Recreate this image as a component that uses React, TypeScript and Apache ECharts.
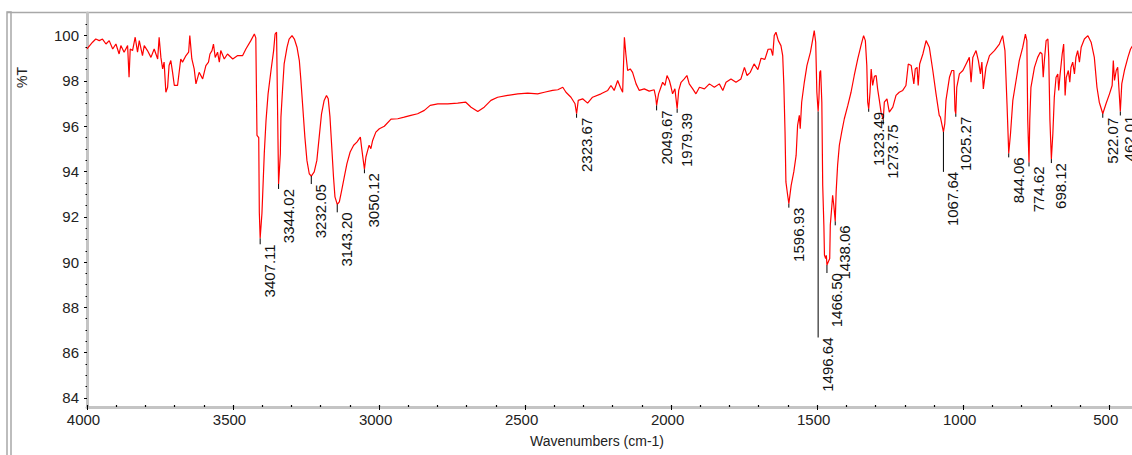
import React, { useEffect, useRef } from "react";
import * as echarts from "echarts";

// IR spectrum: wavenumber (cm-1) against transmittance (%T)
const wavenumbers = [
  4000, 3981, 3970, 3958, 3947, 3935, 3924, 3912, 3901, 3890, 3884, 3873, 3861, 3856, 3852, 3844,
  3835, 3827, 3821, 3810, 3804, 3793, 3781, 3770, 3758, 3753, 3747, 3741, 3736, 3730, 3724, 3719,
  3713, 3707, 3701, 3690, 3679, 3673, 3661, 3652, 3648, 3641, 3633, 3627, 3616, 3604, 3593, 3584,
  3579, 3572, 3567, 3561, 3553, 3547, 3542, 3530, 3519, 3501, 3484, 3467, 3456, 3439, 3427, 3422,
  3418, 3412, 3410, 3407.11, 3401, 3397, 3393, 3387, 3380, 3370, 3361, 3356, 3351, 3347, 3344.02, 3338,
  3336, 3330, 3325, 3315, 3308, 3298, 3290, 3281, 3273, 3268, 3262, 3254, 3247, 3239, 3232.05, 3222,
  3213, 3205, 3197, 3188, 3180, 3174, 3168, 3162, 3156, 3151, 3143.2, 3136, 3128, 3119, 3110, 3099,
  3087, 3076, 3064, 3060, 3050.12, 3045, 3039, 3034, 3028, 3022, 3011, 2999, 2982, 2959, 2936, 2914,
  2891, 2868, 2845, 2825, 2799, 2765, 2731, 2703, 2685, 2662, 2640, 2617, 2594, 2560, 2525, 2491,
  2457, 2434, 2406, 2388, 2371, 2360, 2343, 2329, 2323.67, 2318, 2303, 2286, 2269, 2240, 2217, 2206,
  2195, 2183, 2174, 2166, 2160, 2155, 2149, 2140, 2132, 2120, 2109, 2092, 2075, 2058, 2053, 2049.67,
  2043, 2035, 2029, 2021, 2014, 2006, 2000, 1995, 1987, 1979.39, 1974, 1966, 1955, 1946, 1938, 1926,
  1915, 1903, 1886, 1869, 1852, 1835, 1823, 1812, 1795, 1778, 1761, 1749, 1740, 1729, 1716, 1703,
  1692, 1679, 1668, 1658, 1652, 1647, 1641, 1633, 1624, 1618, 1614, 1610, 1607, 1601, 1596.93, 1589,
  1580, 1572, 1567, 1561, 1558, 1553, 1544, 1535, 1523, 1515, 1510, 1505, 1501, 1496.64, 1494, 1491,
  1488, 1484, 1481, 1477, 1475, 1471, 1468.5, 1466.5, 1457, 1455, 1450, 1447, 1443, 1438.06, 1435, 1430,
  1424, 1416, 1407, 1395, 1384, 1373, 1361, 1350, 1341, 1335, 1330, 1327, 1323.49, 1319, 1315, 1310,
  1304, 1298, 1293, 1287, 1281, 1273.75, 1270, 1261, 1253, 1241, 1230, 1219, 1207, 1196, 1188, 1178,
  1169, 1164, 1158, 1154, 1149, 1138, 1127, 1116, 1104, 1093, 1082, 1078, 1067.64, 1063, 1059, 1047,
  1039, 1032, 1028, 1025.27, 1022, 1013, 1001, 990, 979, 973, 967, 956, 948, 941, 936, 931,
  922, 910, 893, 876, 865, 857, 850, 844.06, 838, 830, 819, 808, 796, 787, 782, 779,
  774.62, 772, 768, 756, 745, 736, 730, 726, 722, 716, 710, 707, 703, 698.12, 693, 688,
  682, 676, 673, 668, 661, 656, 651, 647, 640, 635, 631, 625, 619, 614, 608, 602,
  596, 585, 573, 562, 551, 542, 534, 522.07, 511, 499, 490, 486, 482, 476, 471, 467,
  462.01, 457, 448, 436, 427, 418,
];

const transmittance = [
  99.42, 99.71, 99.85, 99.78, 99.85, 99.63, 99.78, 99.41, 99.63, 99.19, 99.56, 99.27, 99.56, 98.16, 99.41, 99.34,
  99.93, 99.27, 99.78, 99.12, 99.56, 99.34, 99.04, 99.41, 98.97, 99.93, 99.04, 98.53, 98.83, 97.5, 97.72, 98.68,
  98.9, 98.38, 97.8, 97.8, 98.97, 98.83, 99.12, 99.27, 100.0, 98.97, 98.53, 97.87, 98.38, 98.09, 98.68, 98.83,
  99.19, 99.34, 99.63, 99.04, 99.27, 98.83, 99.34, 98.97, 99.19, 98.97, 99.12, 99.12, 99.41, 99.78, 100.07, 99.9,
  95.6, 95.5, 92.2, 91.05, 92.16, 93.47, 94.8, 96.26, 97.43, 98.46, 99.34, 100.07, 100.15, 96.26, 93.45, 94.79,
  96.4, 97.72, 98.75, 99.49, 99.85, 100.0, 99.85, 99.49, 98.9, 98.09, 96.99, 95.52, 94.49, 93.9, 93.8, 93.98,
  94.49, 95.52, 96.55, 97.14, 97.36, 97.21, 96.4, 95.08, 93.76, 92.88, 92.55, 92.66, 93.17, 93.76, 94.35, 94.86,
  95.16, 95.3, 95.52, 95.08, 94.1, 94.64, 94.93, 95.16, 95.01, 95.37, 95.74, 95.89, 96.0, 96.31, 96.33, 96.4,
  96.48, 96.55, 96.7, 96.92, 96.99, 96.99, 97.02, 97.06, 96.84, 96.65, 96.84, 97.14, 97.28, 97.36, 97.43, 97.46,
  97.43, 97.5, 97.58, 97.61, 97.72, 97.5, 97.28, 96.99, 96.55, 97.14, 97.21, 97.02, 97.28, 97.43, 97.58, 97.8,
  97.58, 98.02, 97.72, 97.5, 99.93, 99.19, 98.46, 98.53, 98.38, 97.87, 97.58, 97.65, 97.55, 97.61, 97.3, 96.92,
  97.43, 97.72, 97.94, 97.8, 98.24, 98.02, 97.72, 97.43, 97.65, 96.77, 97.58, 97.94, 98.09, 98.24, 97.87, 97.65,
  97.43, 97.72, 97.65, 97.87, 97.72, 97.87, 97.58, 97.94, 98.09, 97.94, 98.09, 98.6, 98.24, 98.38, 98.75, 98.5,
  99.0, 98.95, 99.4, 99.41, 99.12, 100.0, 100.15, 99.78, 99.56, 99.12, 97.8, 95.74, 93.54, 92.95, 92.58, 93.39,
  93.98, 94.71, 96.04, 96.48, 95.89, 97.06, 97.94, 98.68, 99.27, 99.85, 100.22, 99.71, 97.5, 96.65, 97.21, 98.38,
  98.46, 97.06, 93.39, 91.63, 90.31, 90.16, 90.3, 89.87, 90.16, 91.63, 92.43, 92.95, 92.51, 91.8, 93.1, 94.27,
  95.16, 95.74, 96.33, 96.92, 97.5, 98.24, 98.97, 99.56, 100.0, 99.78, 98.68, 97.06, 96.77, 97.5, 98.53, 97.8,
  98.2, 98.24, 97.65, 97.14, 96.6, 96.3, 97.06, 97.21, 96.62, 96.84, 97.36, 97.5, 97.58, 97.8, 98.75, 98.68,
  97.87, 98.53, 98.6, 97.8, 98.75, 99.19, 99.78, 99.49, 98.46, 97.43, 96.48, 96.4, 95.75, 96.11, 97.14, 98.16,
  98.46, 98.46, 96.7, 96.55, 97.72, 98.31, 98.46, 98.75, 99.04, 97.94, 99.04, 99.34, 98.9, 98.31, 98.83, 97.65,
  98.6, 99.12, 99.34, 99.63, 100.0, 99.34, 96.99, 94.8, 95.67, 97.14, 98.02, 98.9, 99.49, 100.07, 99.78, 96.26,
  94.4, 96.26, 97.72, 98.6, 99.04, 99.27, 99.19, 98.16, 98.9, 99.78, 99.85, 99.04, 96.26, 94.55, 95.67, 97.28,
  98.16, 98.31, 97.58, 98.31, 99.19, 99.63, 97.36, 98.16, 98.46, 97.94, 98.6, 98.83, 98.31, 99.04, 99.34, 98.83,
  99.49, 99.85, 100.0, 99.71, 99.04, 97.72, 97.06, 96.55, 96.99, 97.43, 97.8, 98.9, 98.02, 98.46, 98.6, 97.72,
  96.65, 97.87, 98.46, 99.04, 99.41, 99.6,
];

// Labelled absorption bands
const peakLabels = [
  "3407.11", "3344.02", "3232.05", "3143.20", "3050.12", "2323.67", "2049.67", "1979.39",
  "1596.93", "1496.64", "1466.50", "1438.06", "1323.49", "1273.75", "1067.64", "1025.27",
  "844.06", "774.62", "698.12", "522.07", "462.01",
];
const peakWavenumbers = [
  3407.11, 3344.02, 3232.05, 3143.2, 3050.12, 2323.67, 2049.67, 1979.39,
  1596.93, 1496.64, 1466.5, 1438.06, 1323.49, 1273.75, 1067.64, 1025.27,
  844.06, 774.62, 698.12, 522.07, 462.01,
];
const peakTransmittance = [
  91.05, 93.45, 93.8, 92.55, 94.1, 96.55, 96.92, 96.77,
  92.58, 96.65, 89.87, 91.8, 96.77, 96.3, 95.75, 96.55,
  94.8, 94.4, 94.55, 96.55, 96.65,
];

// Axis tick values
const xMajorTicks = [4000, 3500, 3000, 2500, 2000, 1500, 1000, 500];
const xMinorTicks = [
  4000, 3900, 3800, 3700, 3600, 3500, 3400, 3300, 3200, 3100, 3000, 2900, 2800, 2700, 2600, 2500,
  2400, 2300, 2200, 2100, 2000, 1900, 1800, 1700, 1600, 1500, 1400, 1300, 1200, 1100, 1000, 900,
  800, 700, 600, 500,
];
const yMajorTicks = [84, 86, 88, 90, 92, 94, 96, 98, 100];
const yMinorTicks = [
  84, 84.5, 85, 85.5, 86, 86.5, 87, 87.5, 88, 88.5, 89, 89.5, 90, 90.5, 91, 91.5, 92, 92.5,
  93, 93.5, 94, 94.5, 95, 95.5, 96, 96.5, 97, 97.5, 98, 98.5, 99, 99.5, 100, 100.5,
];

// Leader line length (px) below each labelled band
const leaderLengths = [6, 5, 8, 8, 4, 4, 5, 4, 4, 226, 8, 4, 3, 5, 40, 3, 4, 4, 4, 4, 4];

const FONT = '"Liberation Sans", Arial, Helvetica, sans-serif';
const X_MIN = 422;
const X_MAX = 4000;
const Y_MIN = 83.6;
const Y_MAX = 101;

export default function App() {
  const ref = useRef<HTMLDivElement>(null);

  useEffect(() => {
    if (!ref.current) return;
    const chart = echarts.init(ref.current, undefined, { renderer: "svg" });

    const spectrum = wavenumbers.map((w, i) => [w, transmittance[i]]);
    const peaks = peakWavenumbers.map((w, i) => [w, peakTransmittance[i]]);

    const baseX = {
      type: "value" as const,
      min: X_MIN,
      max: X_MAX,
      inverse: true,
      position: "bottom" as const,
      splitLine: { show: false },
    };
    const baseY = {
      type: "value" as const,
      min: Y_MIN,
      max: Y_MAX,
      position: "left" as const,
      splitLine: { show: false },
    };

    chart.setOption({
      animation: false,
      backgroundColor: "#ffffff",
      grid: { left: 87, right: 0, top: 13, bottom: 48, containLabel: false, outerBoundsMode: "none" },
      xAxis: [
        {
          ...baseX,
          axisLine: { show: true, lineStyle: { color: "#c4c4c4", width: 3 } },
          axisTick: { show: true, customValues: xMajorTicks, length: 3, lineStyle: { color: "#000", width: 1 } },
          axisLabel: {
            show: true,
            customValues: xMajorTicks,
            formatter: (v: number) => String(v),
            margin: 5,
            padding: [0, 7, 0, 0],
            color: "#222",
            fontSize: 15,
            fontFamily: FONT,
          },
        },
        {
          ...baseX,
          axisLine: { show: false },
          axisTick: { show: true, inside: true, customValues: xMinorTicks, length: 2, lineStyle: { color: "#000", width: 1.2 } },
          axisLabel: { show: false },
        },
      ],
      yAxis: [
        {
          ...baseY,
          axisLine: { show: true, lineStyle: { color: "#c4c4c4", width: 3 } },
          axisTick: { show: true, customValues: yMajorTicks, length: 3, lineStyle: { color: "#000", width: 1 } },
          axisLabel: {
            show: true,
            customValues: yMajorTicks,
            formatter: (v: number) => String(v),
            margin: 8,
            color: "#222",
            fontSize: 15,
            fontFamily: FONT,
          },
        },
        {
          ...baseY,
          axisLine: { show: false },
          axisTick: { show: true, customValues: yMinorTicks, length: 1.5, lineStyle: { color: "#000", width: 1.2 } },
          axisLabel: { show: false },
        },
      ],
      graphic: [
        {
          type: "rect",
          shape: { x: 7, y: 12, width: 4, height: 450 },
          style: { fill: "#ffffff", stroke: "#a8a8a8", lineWidth: 1.5 },
          silent: true,
        },
        {
          type: "line",
          shape: { x1: 7, y1: 12.5, x2: 1132, y2: 12.5 },
          style: { stroke: "#a8a8a8", lineWidth: 1.5 },
          silent: true,
        },
        {
          type: "text",
          x: 21.5,
          y: 77.5,
          rotation: Math.PI / 2,
          style: { text: "%T", fill: "#222", font: `14px ${FONT}`, align: "center", verticalAlign: "middle" },
          silent: true,
        },
        {
          type: "text",
          x: 597,
          y: 441,
          style: { text: "Wavenumbers (cm-1)", fill: "#222", font: `14px ${FONT}`, align: "center", verticalAlign: "middle" },
          silent: true,
        },
      ],
      series: [
        {
          type: "line",
          data: spectrum,
          xAxisIndex: 0,
          yAxisIndex: 0,
          showSymbol: false,
          symbol: "none",
          clip: true,
          lineStyle: { color: "#ff0000", width: 1.2 },
          z: 3,
        },
        {
          type: "custom",
          data: peaks,
          xAxisIndex: 0,
          yAxisIndex: 0,
          encode: { x: 0, y: 1 },
          z: 4,
          silent: true,
          renderItem: (params: any, api: any) => {
            const i = params.dataIndex;
            const pt = api.coord([api.value(0), api.value(1)]);
            const len = leaderLengths[i];
            return {
              type: "group",
              children: [
                {
                  type: "line",
                  shape: { x1: pt[0], y1: pt[1], x2: pt[0], y2: pt[1] + len },
                  style: { stroke: "#000", lineWidth: 1 },
                },
                {
                  type: "text",
                  x: pt[0] + 2,
                  y: pt[1] + len,
                  rotation: Math.PI / 2,
                  style: {
                    text: peakLabels[i],
                    fill: "#111",
                    font: `15px ${FONT}`,
                    align: "right",
                    verticalAlign: "top",
                  },
                },
              ],
            };
          },
        },
      ],
    });

    return () => chart.dispose();
  }, []);

  return (
    <div
      ref={ref}
      style={{ position: "fixed", left: 0, top: 0, width: 1132, height: 455, background: "#fff" }}
    />
  );
}
